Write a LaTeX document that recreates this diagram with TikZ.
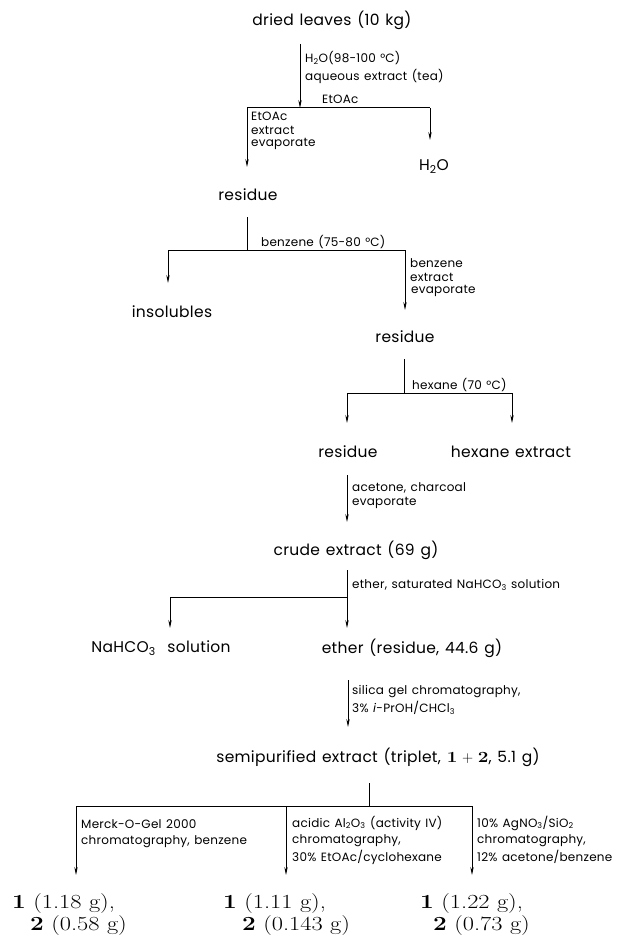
\documentclass[tikz,border=0pt]{standalone}
\usepackage{fontspec}
\usepackage{graphicx}
\newfontfamily\geo[LetterSpace=2,WordSpace=1.6]{Poppins}
\newfontfamily\geos[LetterSpace=2,WordSpace=1.3]{Poppins}
\newcommand\reswide[1]{\scalebox{1.22}[1]{#1}}
\usetikzlibrary{arrows.meta}
\tikzset{
  mainlbl/.style={font=\geo\fontsize{15.5}{17}\selectfont, inner sep=0pt},
  lbl/.style={font=\geos\fontsize{12}{13}\selectfont, inner sep=0pt, anchor=west},
  reslbl/.style={font=\fontsize{20}{23}\selectfont, inner sep=0pt, anchor=west},
  arr/.style={-{Stealth[length=8pt,width=3.4pt]}, line width=0.8pt},
  barline/.style={line width=1pt},
}
\begin{document}
\begin{tikzpicture}[x=1pt,y=-1pt]
\useasboundingbox[fill=white] (0,0) rectangle (629,936);
% ---- step 1
\node[mainlbl] (n0) at (332,20) {dried leaves (10 kg)};
\coordinate (t0) at (300,44);
\coordinate (b1) at (300,108);
\coordinate (b1l) at (247,108);
\coordinate (b1r) at (430,108);
\draw[arr] (t0) -- (b1);
\node[lbl] (l1a) at (305,58) {H\textsubscript{2}O(98-100 °C)};
\node[lbl] (l1b) at (305,76) {aqueous extract (tea)};
\node[lbl] (l1c) at (322,99) {EtOAc};
\draw[barline] (b1l) -- (b1r);
\coordinate (e1) at (247,167);
\coordinate (e2) at (430,140);
\draw[arr] (b1l) -- (e1);
\draw[arr] (b1r) -- (e2);
\node[lbl] (l2a) at (251,116) {EtOAc};
\node[lbl] (l2b) at (251,130) {extract};
\node[lbl] (l2c) at (251,144) {evaporate};
\node[mainlbl] (h2o) at (434,167) {H\textsubscript{2}O};
% ---- step 2
\node[mainlbl] (r1) at (248,195) {residue};
\coordinate (t1) at (247,217);
\coordinate (b2) at (247,250);
\coordinate (b2l) at (168,250);
\coordinate (b2r) at (405,250);
\draw[barline] (t1) -- (b2);
\draw[barline] (b2l) -- (b2r);
\node[lbl] (l3) at (261,242) {benzene (75-80 °C)};
\coordinate (e3) at (168,283);
\coordinate (e4) at (405,310);
\draw[arr] (b2l) -- (e3);
\draw[arr] (b2r) -- (e4);
\node[mainlbl] (ins) at (172,312) {insolubles};
\node[lbl] (l4a) at (410,263) {benzene};
\node[lbl] (l4b) at (410,277) {extract};
\node[lbl] (l4c) at (411,291) {evaporate};
% ---- step 3
\node[mainlbl] (r2) at (405,337) {residue};
\coordinate (t2) at (404,359);
\coordinate (b3) at (404,393);
\coordinate (b3l) at (347,393);
\coordinate (b3r) at (512,393);
\draw[barline] (t2) -- (b3);
\draw[barline] (b3l) -- (b3r);
\node[lbl] (l5) at (412,385) {hexane (70 °C)};
\coordinate (e5) at (347,423);
\coordinate (e6) at (512,423);
\draw[arr] (b3l) -- (e5);
\draw[arr] (b3r) -- (e6);
\node[mainlbl] (r3) at (348,452) {residue};
\node[mainlbl] (hex) at (511,452) {hexane extract};
% ---- step 4
\coordinate (t3) at (347,475);
\coordinate (e7) at (347,522);
\draw[arr] (t3) -- (e7);
\node[lbl] (l6a) at (352,488) {acetone, charcoal};
\node[lbl] (l6b) at (352,503) {evaporate};
\node[mainlbl] (crude) at (356,550) {crude extract (69 g)};
% ---- step 5
\coordinate (t4) at (347,570);
\coordinate (b4) at (347,597);
\coordinate (b4l) at (170,597);
\coordinate (e8) at (347,628);
\coordinate (e9) at (170,628);
\draw[arr] (t4) -- (e8);
\draw[barline] (b4l) -- (b4);
\draw[arr] (b4l) -- (e9);
\node[lbl] (l7) at (352,585) {ether, saturated NaHCO\textsubscript{3} solution};
\node[mainlbl] (nahco) at (161,648) {NaHCO\textsubscript{3}\ \ solution};
\node[mainlbl] (ether) at (412,648) {ether (residue, 44.6 g)};
% ---- step 6
\coordinate (t5) at (348,680);
\coordinate (e10) at (348,727);
\draw[arr] (t5) -- (e10);
\node[lbl] (l8a) at (352,692) {silica gel chromatography,};
\node[lbl] (l8b) at (352,708) {3\% \textit{i}-PrOH/CHCl\textsubscript{3}};
\node[mainlbl] (semi) at (378,757) {semipurified extract (triplet, {\normalfont\fontsize{15.5}{17}\selectfont\reswide{\textbf{1}}\ +\ \reswide{\textbf{2}}}, 5.1 g)};
% ---- step 7
\coordinate (t6) at (369,783);
\coordinate (b5) at (369,806);
\coordinate (b5l) at (76,806);
\coordinate (b5m) at (286,806);
\coordinate (b5r) at (472,806);
\draw[barline] (t6) -- (b5);
\draw[barline] (b5l) -- (b5r);
\coordinate (e11) at (76,875);
\coordinate (e12) at (286,875);
\coordinate (e13) at (472,875);
\draw[arr] (b5l) -- (e11);
\draw[arr] (b5m) -- (e12);
\draw[arr] (b5r) -- (e13);
\node[lbl] (l9a) at (81,824) {Merck-O-Gel 2000};
\node[lbl] (l9b) at (81,842) {chromatography, benzene};
\node[lbl] (l10a) at (292,823) {acidic Al\textsubscript{2}O\textsubscript{3} (activity IV)};
\node[lbl] (l10b) at (292,841) {chromatography,};
\node[lbl] (l10c) at (292,857) {30\% EtOAc/cyclohexane};
\node[lbl] (l11a) at (477,823) {10\% AgNO\textsubscript{3}/SiO\textsubscript{2}};
\node[lbl] (l11b) at (477,841) {chromatography,};
\node[lbl] (l11c) at (477,857) {12\% acetone/benzene};
% ---- results
\node[reslbl] (res1a) at (12,903) {\reswide{\textbf{1} (1.18 g),}};
\node[reslbl] (res1b) at (30,925) {\reswide{\textbf{2} (0.58 g)}};
\node[reslbl] (res2a) at (223,903) {\reswide{\textbf{1} (1.11 g),}};
\node[reslbl] (res2b) at (242,925) {\reswide{\textbf{2} (0.143 g)}};
\node[reslbl] (res3a) at (420,903) {\reswide{\textbf{1} (1.22 g),}};
\node[reslbl] (res3b) at (433,925) {\reswide{\textbf{2} (0.73 g)}};
\end{tikzpicture}
\end{document}
